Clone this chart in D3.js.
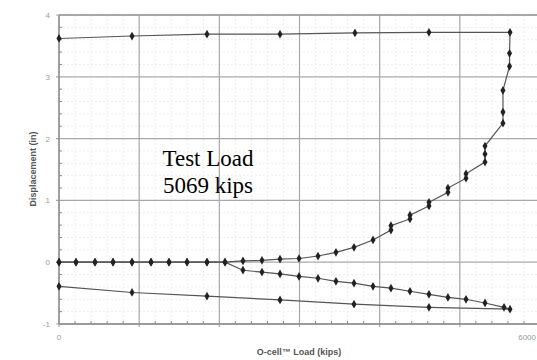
<!DOCTYPE html>
<html><head><meta charset="utf-8">
<script src="https://cdn.jsdelivr.net/npm/d3@7"></script>
<style>html,body{margin:0;padding:0;background:#fff;overflow:hidden}</style>
</head><body>
<svg id="c" width="537" height="360"></svg>
<script>
// ---- data ----
const upLoad = [0,212,449,674,911,1148,1372,1597,1846,2071,2295,2532,2757,2994,3231,3455,3680,3917,4141,4141,4378,4378,4615,4615,4852,4852,5077,5077,5314,5314,5314,5538,5538,5538,5620,5620,5626,4615,3692,2757,1846,911,0];
const upDisp = [0,0,0,0,0,0,0,0,0,0,0.02,0.03,0.05,0.06,0.1,0.16,0.24,0.36,0.52,0.59,0.7,0.76,0.91,0.97,1.13,1.2,1.36,1.43,1.62,1.75,1.88,2.25,2.43,2.78,3.17,3.38,3.72,3.72,3.71,3.69,3.69,3.66,3.62];
const downLoad = [0,212,449,674,911,1148,1372,1597,1846,2071,2295,2532,2757,2994,3231,3455,3680,3917,4141,4378,4615,4852,5077,5314,5551,5626,4615,3680,2757,1846,911,0];
const downDisp = [0,0,0,0,0,0,0,0,0,0,-0.13,-0.16,-0.19,-0.23,-0.26,-0.31,-0.34,-0.39,-0.42,-0.47,-0.52,-0.57,-0.60,-0.66,-0.73,-0.76,-0.73,-0.68,-0.61,-0.55,-0.49,-0.39];
const xTickVals = [0,1000,2000,3000,4000,5000,6000];
const xTickLabels = ["0","","","","","","6000"];
const yTickVals = [-1,0,1,2,3,4];
const yTickLabels = ["-1","0","1","2","3","4"];
const xTitle = "O-cell\u2122 Load (kips)";
const yTitle = "Displacement (in)";
const noteLines = ["Test Load","5069 kips"];

// ---- drawing ----
const W = 537;
const svg = d3.select("#c");
const x = d3.scaleLinear().domain([0,6000]).range([59,540]);
const y = d3.scaleLinear().domain([-1,4]).range([324,15]);

// faint minor grid
const minorX = d3.range(0,6001,200).filter(v=>v%1000!==0);
const minorY = d3.range(-1,4.001,0.2).map(v=>+v.toFixed(1)).filter(v=>Math.abs(v-Math.round(v))>1e-6);
svg.append("g").selectAll("line").data(minorX).join("line")
  .attr("x1",d=>x(d)).attr("x2",d=>x(d)).attr("y1",y(4)).attr("y2",y(-1))
  .attr("stroke","#eeeeee").attr("stroke-dasharray","2,2");
svg.append("g").selectAll("line").data(minorY).join("line")
  .attr("x1",x(0)).attr("x2",x(6000)).attr("y1",d=>y(d)).attr("y2",d=>y(d))
  .attr("stroke","#eeeeee").attr("stroke-dasharray","2,2");

// major grid
svg.append("g").selectAll("line").data(xTickVals).join("line")
  .attr("x1",d=>x(d)).attr("x2",d=>x(d)).attr("y1",y(4)).attr("y2",y(-1)+3)
  .attr("stroke","#a8a8a8").attr("stroke-width",1.2);
svg.append("g").selectAll("line").data(yTickVals).join("line")
  .attr("x1",x(0)-3).attr("x2",x(6000)).attr("y1",d=>y(d)).attr("y2",d=>y(d))
  .attr("stroke","#a8a8a8").attr("stroke-width",1.2);

// axes frame
svg.append("line").attr("x1",x(0)).attr("x2",x(0)).attr("y1",y(4)).attr("y2",y(-1)).attr("stroke","#888").attr("stroke-width",1.3);
svg.append("line").attr("x1",x(0)).attr("x2",x(6000)).attr("y1",y(-1)).attr("y2",y(-1)).attr("stroke","#888").attr("stroke-width",1.3);
svg.append("line").attr("x1",x(0)).attr("x2",x(6000)).attr("y1",y(4)).attr("y2",y(4)).attr("stroke","#999").attr("stroke-width",1.6);

// minor ticks
svg.append("g").selectAll("line").data(minorX).join("line")
  .attr("x1",d=>x(d)).attr("x2",d=>x(d)).attr("y1",y(-1)).attr("y2",y(-1)-3).attr("stroke","#888");
svg.append("g").selectAll("line").data(minorY).join("line")
  .attr("x1",x(0)).attr("x2",x(0)+3).attr("y1",d=>y(d)).attr("y2",d=>y(d)).attr("stroke","#888");

// tick labels
svg.append("g").selectAll("text").data(yTickVals).join("text")
  .attr("x",x(0)-9).attr("y",d=>y(d)+3).attr("text-anchor","end")
  .attr("font-family","Liberation Sans, Arial, sans-serif").attr("font-size",8).attr("fill","#999")
  .text((d,i)=>yTickLabels[i]);
svg.append("g").selectAll("text").data(xTickVals).join("text")
  .attr("x",d=>Math.min(x(d), W-1)).attr("y",y(-1)+16)
  .attr("text-anchor",d=>x(d)>W-10?"end":"middle")
  .attr("font-family","Liberation Sans, Arial, sans-serif").attr("font-size",8).attr("fill","#999")
  .text((d,i)=>xTickLabels[i]);

// titles
svg.append("text").attr("x",299).attr("y",355).attr("text-anchor","middle")
  .attr("font-family","Liberation Sans, Arial, sans-serif").attr("font-size",9).attr("font-weight","bold")
  .attr("fill","#555").text(xTitle);
svg.append("text").attr("transform","translate(36,169) rotate(-90)").attr("text-anchor","middle")
  .attr("font-family","Liberation Sans, Arial, sans-serif").attr("font-size",9).attr("font-weight","bold")
  .attr("fill","#555").text(yTitle);

// series
const line = d3.line().x(d=>x(d[0])).y(d=>y(d[1]));
const upPts = upLoad.map((v,i)=>[v,upDisp[i]]);
const downPts = downLoad.map((v,i)=>[v,downDisp[i]]);
[downPts, upPts].forEach(pts=>{
  svg.append("path").datum(pts).attr("d",line).attr("fill","none")
    .attr("stroke","#555").attr("stroke-width",1.2);
  svg.append("g").selectAll("path").data(pts).join("path")
    .attr("transform",d=>`translate(${x(d[0])},${y(d[1])})`)
    .attr("d",d3.symbol().type(d3.symbolDiamond).size(22))
    .attr("fill","#222");
});

// annotation
svg.append("g").selectAll("text").data(noteLines).join("text")
  .attr("x",208).attr("y",(d,i)=>166+i*27).attr("text-anchor","middle")
  .attr("font-family","Liberation Serif, Times New Roman, serif").attr("font-size",23)
  .attr("fill","#000").text(d=>d);
</script>
</body></html>
